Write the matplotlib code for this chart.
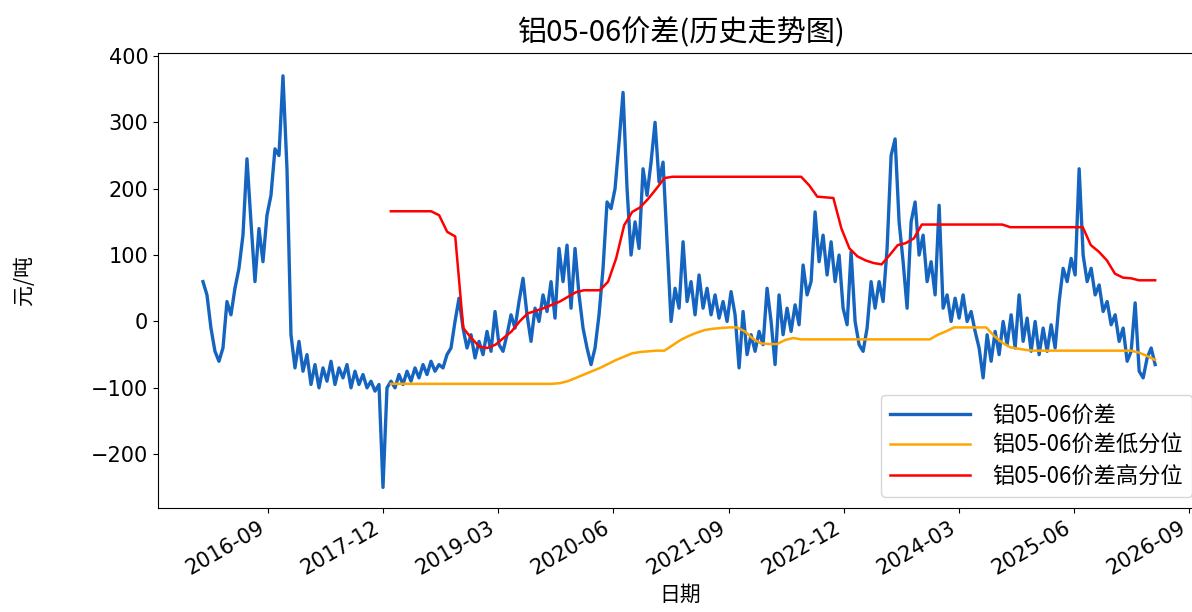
# 铝05-06价差 历史走势图
import matplotlib
matplotlib.use("Agg")
import matplotlib.pyplot as plt
import matplotlib.dates as mdates
import pandas as pd

cjk = ['Noto Sans CJK SC', 'DejaVu Sans']

# 价差 (元/吨), 约每16天一个点, 2015-12-18 ~ 2026-04-19
spread = [
    60, 40, -10, -45, -60, -40, 30, 10, 50, 80,
    130, 245, 150, 60, 140, 90, 160, 190, 260, 250,
    370, 230, -20, -70, -30, -75, -50, -95, -65, -100,
    -70, -90, -60, -95, -70, -85, -65, -100, -75, -95,
    -80, -100, -90, -105, -95, -250, -100, -90, -100, -80,
    -95, -75, -90, -70, -85, -65, -80, -60, -75, -65,
    -70, -50, -40, 0, 35, -10, -40, -20, -55, -30,
    -50, -15, -45, 15, -35, -45, -20, 10, -10, 30,
    65, 10, -30, 20, 0, 40, 15, 60, 5, 110,
    60, 115, 20, 110, 40, -10, -40, -65, -40, 10,
    80, 180, 170, 200, 270, 345, 200, 100, 150, 110,
    230, 190, 240, 300, 210, 240, 120, 0, 50, 20,
    120, 30, 60, 10, 70, 20, 50, 10, 40, 5,
    30, 0, 45, 10, -70, 15, -50, -20, -45, -15,
    -35, 50, 0, -65, 40, -20, 20, -15, 25, -5,
    85, 40, 60, 165, 90, 130, 70, 120, 60, 100,
    20, -5, 105, 0, -35, -45, -10, 60, 20, 60,
    30, 110, 250, 275, 150, 90, 20, 150, 180, 100,
    130, 60, 90, 40, 175, 20, 40, 0, 35, 5,
    40, 0, 15, -15, -40, -85, -20, -60, -15, -50,
    0, -35, 10, -40, 40, -30, 5, -45, 0, -50,
    -10, -45, -5, -40, 30, 80, 60, 95, 70, 230,
    100, 60, 80, 40, 55, 15, 30, -5, 10, -30,
    -10, -60, -45, 28, -75, -85, -55, -40, -65,
]

# 高分位 / 低分位, 2018-01-01 ~ 2026-04-19
high_q = [
    166, 166, 166, 166, 166, 166, 160, 135, 128,
    -10, -25, -38, -40, -35, -25, -15, 0,
    12, 16, 20, 25, 30, 37, 44,
    47, 47, 47,
    60, 95, 145, 165, 172, 185, 200, 216,
    218, 218, 218, 218, 218, 218, 218, 218, 218, 218, 218, 218, 218, 218, 218, 218, 218,
    205, 188, 187, 186, 140, 110, 98, 92, 88, 86,
    100, 115, 118, 125,
    146, 146, 146, 146, 146, 146, 146, 146, 146, 146, 146,
    142, 142, 142, 142, 142, 142, 142, 142, 142, 142,
    115, 105, 92, 72, 66, 65,
    62, 62, 62,
]
low_q = [
    -94, -94, -94, -94, -94, -94, -94, -94, -94, -94, -94,
    -94, -94, -94, -94, -94, -94, -94, -94, -94, -94,
    -93, -90, -85, -80, -75, -70, -64, -58, -53, -48, -46, -45, -44, -44,
    -36, -28, -22, -17, -13, -11, -10, -9, -9,
    -15, -26, -33, -34, -34, -28, -25,
    -27, -27, -27, -27, -27, -27, -27, -27, -27, -27, -27, -27, -27, -27, -27, -27, -27,
    -20, -15, -9,
    -9, -9, -9, -9,
    -22, -32, -39, -41, -43,
    -44, -44, -44, -44, -44, -44, -44, -44, -44, -44, -44, -44, -44,
    -47, -52, -58,
]

dates = pd.date_range('2015-12-18', '2026-04-19', periods=len(spread))
q_dates = pd.date_range('2018-01-01', '2026-04-19', periods=len(high_q))
tick_dates = pd.date_range('2016-09-01', periods=9, freq='15MS')

fig = plt.figure(figsize=(11.92, 6.12), dpi=100)
ax = fig.add_axes([0.1326, 0.170, 0.8767, 0.744])

ax.plot(dates, spread, color='#1565C0', lw=2.4, label='铝05-06价差')
ax.plot(q_dates, low_q, color='orange', lw=1.8, label='铝05-06价差低分位')
ax.plot(q_dates, high_q, color='red', lw=1.8, label='铝05-06价差高分位')

ax.set_xlim(pd.Timestamp('2015-06-23'), pd.Timestamp('2026-10-26'))
ax.set_ylim(-281, 405)
ax.set_yticks([-200, -100, 0, 100, 200, 300, 400])
ax.set_xticks(tick_dates)
ax.xaxis.set_major_formatter(mdates.DateFormatter('%Y-%m'))
ax.tick_params(labelsize=15)
plt.setp(ax.get_xticklabels(), rotation=30, ha='right')

ax.set_title('铝05-06价差(历史走势图)', fontsize=21, family=cjk, pad=8)
ax.set_xlabel('日期', fontsize=15, family=cjk)
ax.set_ylabel('元/吨', fontsize=15, family=cjk)
ax.yaxis.set_label_coords(-0.118, 0.5)
ax.legend(loc='lower right', prop={'family': cjk, 'size': 16},
          handlelength=3.6, handletextpad=1.0, labelspacing=0.35)

fig.savefig('out.png', dpi=100)
